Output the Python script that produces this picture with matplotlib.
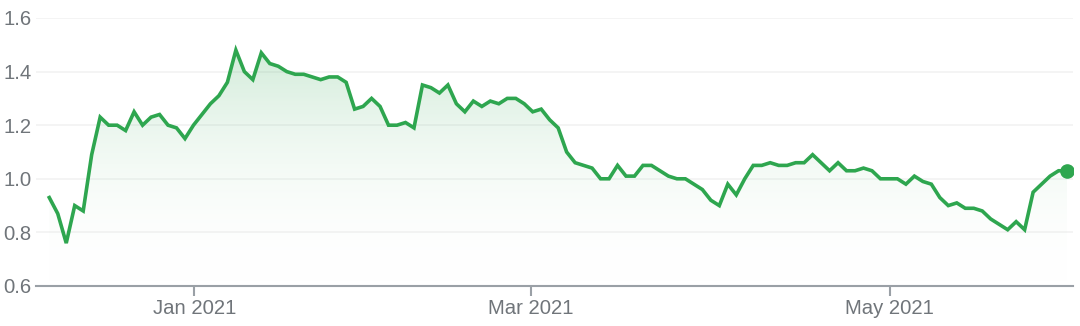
import numpy as np
import matplotlib
matplotlib.use("Agg")
import matplotlib.pyplot as plt
from matplotlib.colors import LinearSegmentedColormap

# daily closing values (trading-day index)
values = [
    0.93, 0.87, 0.76, 0.90, 0.88, 1.09, 1.23, 1.20, 1.20, 1.18,
    1.25, 1.20, 1.23, 1.24, 1.20, 1.19, 1.15, 1.20, 1.24, 1.28,
    1.31, 1.36, 1.48, 1.40, 1.37, 1.47, 1.43, 1.42, 1.40, 1.39,
    1.39, 1.38, 1.37, 1.38, 1.38, 1.36, 1.26, 1.27, 1.30, 1.27,
    1.20, 1.20, 1.21, 1.19, 1.35, 1.34, 1.32, 1.35, 1.28, 1.25,
    1.29, 1.27, 1.29, 1.28, 1.30, 1.30, 1.28, 1.25, 1.26, 1.22,
    1.19, 1.10, 1.06, 1.05, 1.04, 1.00, 1.00, 1.05, 1.01, 1.01,
    1.05, 1.05, 1.03, 1.01, 1.00, 1.00, 0.98, 0.96, 0.92, 0.90,
    0.98, 0.94, 1.00, 1.05, 1.05, 1.06, 1.05, 1.05, 1.06, 1.06,
    1.09, 1.06, 1.03, 1.06, 1.03, 1.03, 1.04, 1.03, 1.00, 1.00,
    1.00, 0.98, 1.01, 0.99, 0.98, 0.93, 0.90, 0.91, 0.89, 0.89,
    0.88, 0.85, 0.83, 0.81, 0.84, 0.81, 0.95, 0.98, 1.01, 1.03,
    1.03,
]
tick_pos = [17.1, 56.8, 99.1]
tick_labels = ["Jan 2021", "Mar 2021", "May 2021"]
y_ticks = [0.6, 0.8, 1.0, 1.2, 1.4, 1.6]

green = "#2ea64f"
grey = "#70757a"

plt.rcParams["font.family"] = ["Liberation Sans", "DejaVu Sans"]

x = np.arange(len(values))
y = np.array(values)

fig = plt.figure(figsize=(10.8, 3.26), dpi=100)
ax = fig.add_axes([0.0333, 0.1227, 0.9602, 0.8221])
ax.set_xlim(-1.57, 120.7)
ax.set_ylim(0.6, 1.6)

# gradient fill under the line
ymax = y.max()
cmap = LinearSegmentedColormap.from_list(
    "fade", [(1, 1, 1, 0), (0.20, 0.66, 0.33, 0.22)]
)
grad = np.linspace(0, 1, 256).reshape(-1, 1)
img = ax.imshow(grad, cmap=cmap, aspect="auto", origin="lower",
                extent=[x[0], x[-1], 0.6, ymax], zorder=1)
poly = ax.fill_between(x, y, 0.6, color="none", lw=0)
clip = poly.get_paths()[0]
img.set_clip_path(clip, transform=ax.transData)

ax.plot(x, y, color=green, lw=2.6, zorder=3, solid_joinstyle="miter")
ax.plot(x[-1], y[-1], "o", color=green, ms=9.5, zorder=4)

ax.set_yticks(y_ticks)
ax.set_yticklabels([f"{v:.1f}" for v in y_ticks])
ax.set_xticks(tick_pos)
ax.set_xticklabels(tick_labels)
ax.grid(axis="y", color="#f3f3f3", lw=1.3, zorder=0)
ax.set_axisbelow(True)

for s in ["top", "right", "left"]:
    ax.spines[s].set_visible(False)
ax.spines["bottom"].set_color("#9aa0a6")
ax.spines["bottom"].set_linewidth(1.5)
ax.tick_params(axis="y", length=0, pad=3, labelsize=14.6, labelcolor=grey)
ax.tick_params(axis="x", length=7.5, width=1.5, color="#9aa0a6",
               pad=2, labelsize=14.6, labelcolor=grey)

fig.savefig("out.png", dpi=100, facecolor="white")
